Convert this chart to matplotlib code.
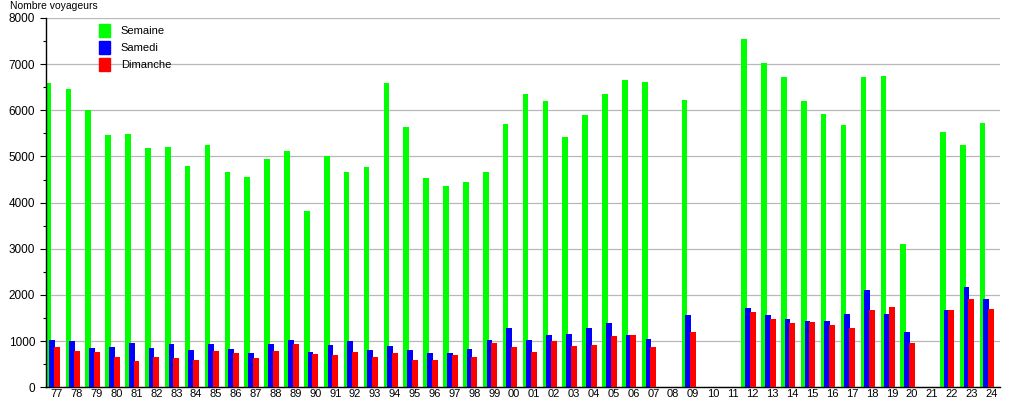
import numpy as np
import matplotlib
matplotlib.use("Agg")
from matplotlib import pyplot as plt
from matplotlib.patches import Patch

plt.rcParams['font.family'] = ['Liberation Sans', 'DejaVu Sans']

# Years 1977 -> 2024 (two-digit labels), nan = no data
years = ["77", "78", "79", "80", "81", "82", "83", "84", "85", "86", "87", "88",
         "89", "90", "91", "92", "93", "94", "95", "96", "97", "98", "99", "00",
         "01", "02", "03", "04", "05", "06", "07", "08", "09", "10", "11", "12",
         "13", "14", "15", "16", "17", "18", "19", "20", "21", "22", "23", "24"]

semaine = [6600, 6470, 6015, 5473, 5495, 5190, 5213, 4800, 5256, 4670, 4562, 4952,
           5126, 3824, 5002, 4670, 4778, 6600, 5646, 4540, 4366, 4453, 4670, 5711,
           6362, 6210, 5430, 5907, 6362, 6666, 6623, np.nan, 6230, np.nan, np.nan, 7555,
           7035, 6731, 6210, 5928, 5690, 6731, 6753, 3109, np.nan, 5538, 5256, 5733]

samedi = [1026, 1004, 852, 874, 960, 852, 939, 809, 939, 830, 744, 939,
          1026, 765, 917, 1004, 809, 895, 809, 744, 744, 830, 1026, 1286,
          1026, 1134, 1156, 1286, 1395, 1134, 1047, np.nan, 1568, np.nan, np.nan, 1720,
          1568, 1482, 1438, 1438, 1590, 2111, 1590, 1200, np.nan, 1677, 2176, 1915]

dimanche = [874, 787, 765, 657, 570, 657, 635, 592, 787, 744, 635, 787,
            939, 722, 700, 765, 657, 744, 592, 592, 700, 657, 960, 874,
            765, 1004, 895, 917, 1113, 1134, 874, np.nan, 1200, np.nan, np.nan, 1634,
            1482, 1395, 1416, 1351, 1286, 1677, 1742, 960, np.nan, 1677, 1915, 1699]

green = '#00ff00'
blue = '#0000ff'
red = '#ff0000'

x = np.arange(len(years))

fig = plt.figure(figsize=(10.15, 4.0), dpi=100)
ax = fig.add_axes([0.045, 0.032, 0.940, 0.923])

ax.bar(x - 0.57, semaine, width=0.28, align='edge', color=green, zorder=2)
ax.bar(x - 0.39, samedi, width=0.29, align='edge', color=blue, zorder=3)
ax.bar(x - 0.15, dimanche, width=0.30, align='edge', color=red, zorder=4)

ax.set_xlim(-0.57, len(years) - 0.57)
ax.set_ylim(0, 8000)
ax.set_xticks(x)
ax.set_xticklabels(years, fontsize=8)
ax.set_yticks(np.arange(0, 8001, 1000))
ax.set_yticks(np.arange(500, 8000, 1000), minor=True)
ax.tick_params(axis='y', labelsize=8.5, length=4, width=0.8, direction='out')
ax.tick_params(axis='y', which='minor', length=2.5, width=0.8)
ax.tick_params(axis='x', length=0, pad=1.5)

ax.yaxis.grid(True, color='#b8b8b8', linewidth=0.9, zorder=0)
ax.set_axisbelow(True)
for s in ['top', 'right']:
    ax.spines[s].set_visible(False)
ax.spines['left'].set_linewidth(1.0)
ax.spines['bottom'].set_linewidth(1.0)

fig.text(0.010, 0.998, "Nombre voyageurs", fontsize=7.5, va='top', ha='left')

handles = [Patch(color=green, label='Semaine'),
           Patch(color=blue, label='Samedi'),
           Patch(color=red, label='Dimanche')]
leg = ax.legend(handles=handles, loc='upper left', bbox_to_anchor=(0.045, 1.01),
                frameon=False, fontsize=8, handlelength=1.0, handleheight=1.4,
                handletextpad=1.0, labelspacing=0.35)

fig.savefig("out.png", dpi=100)
